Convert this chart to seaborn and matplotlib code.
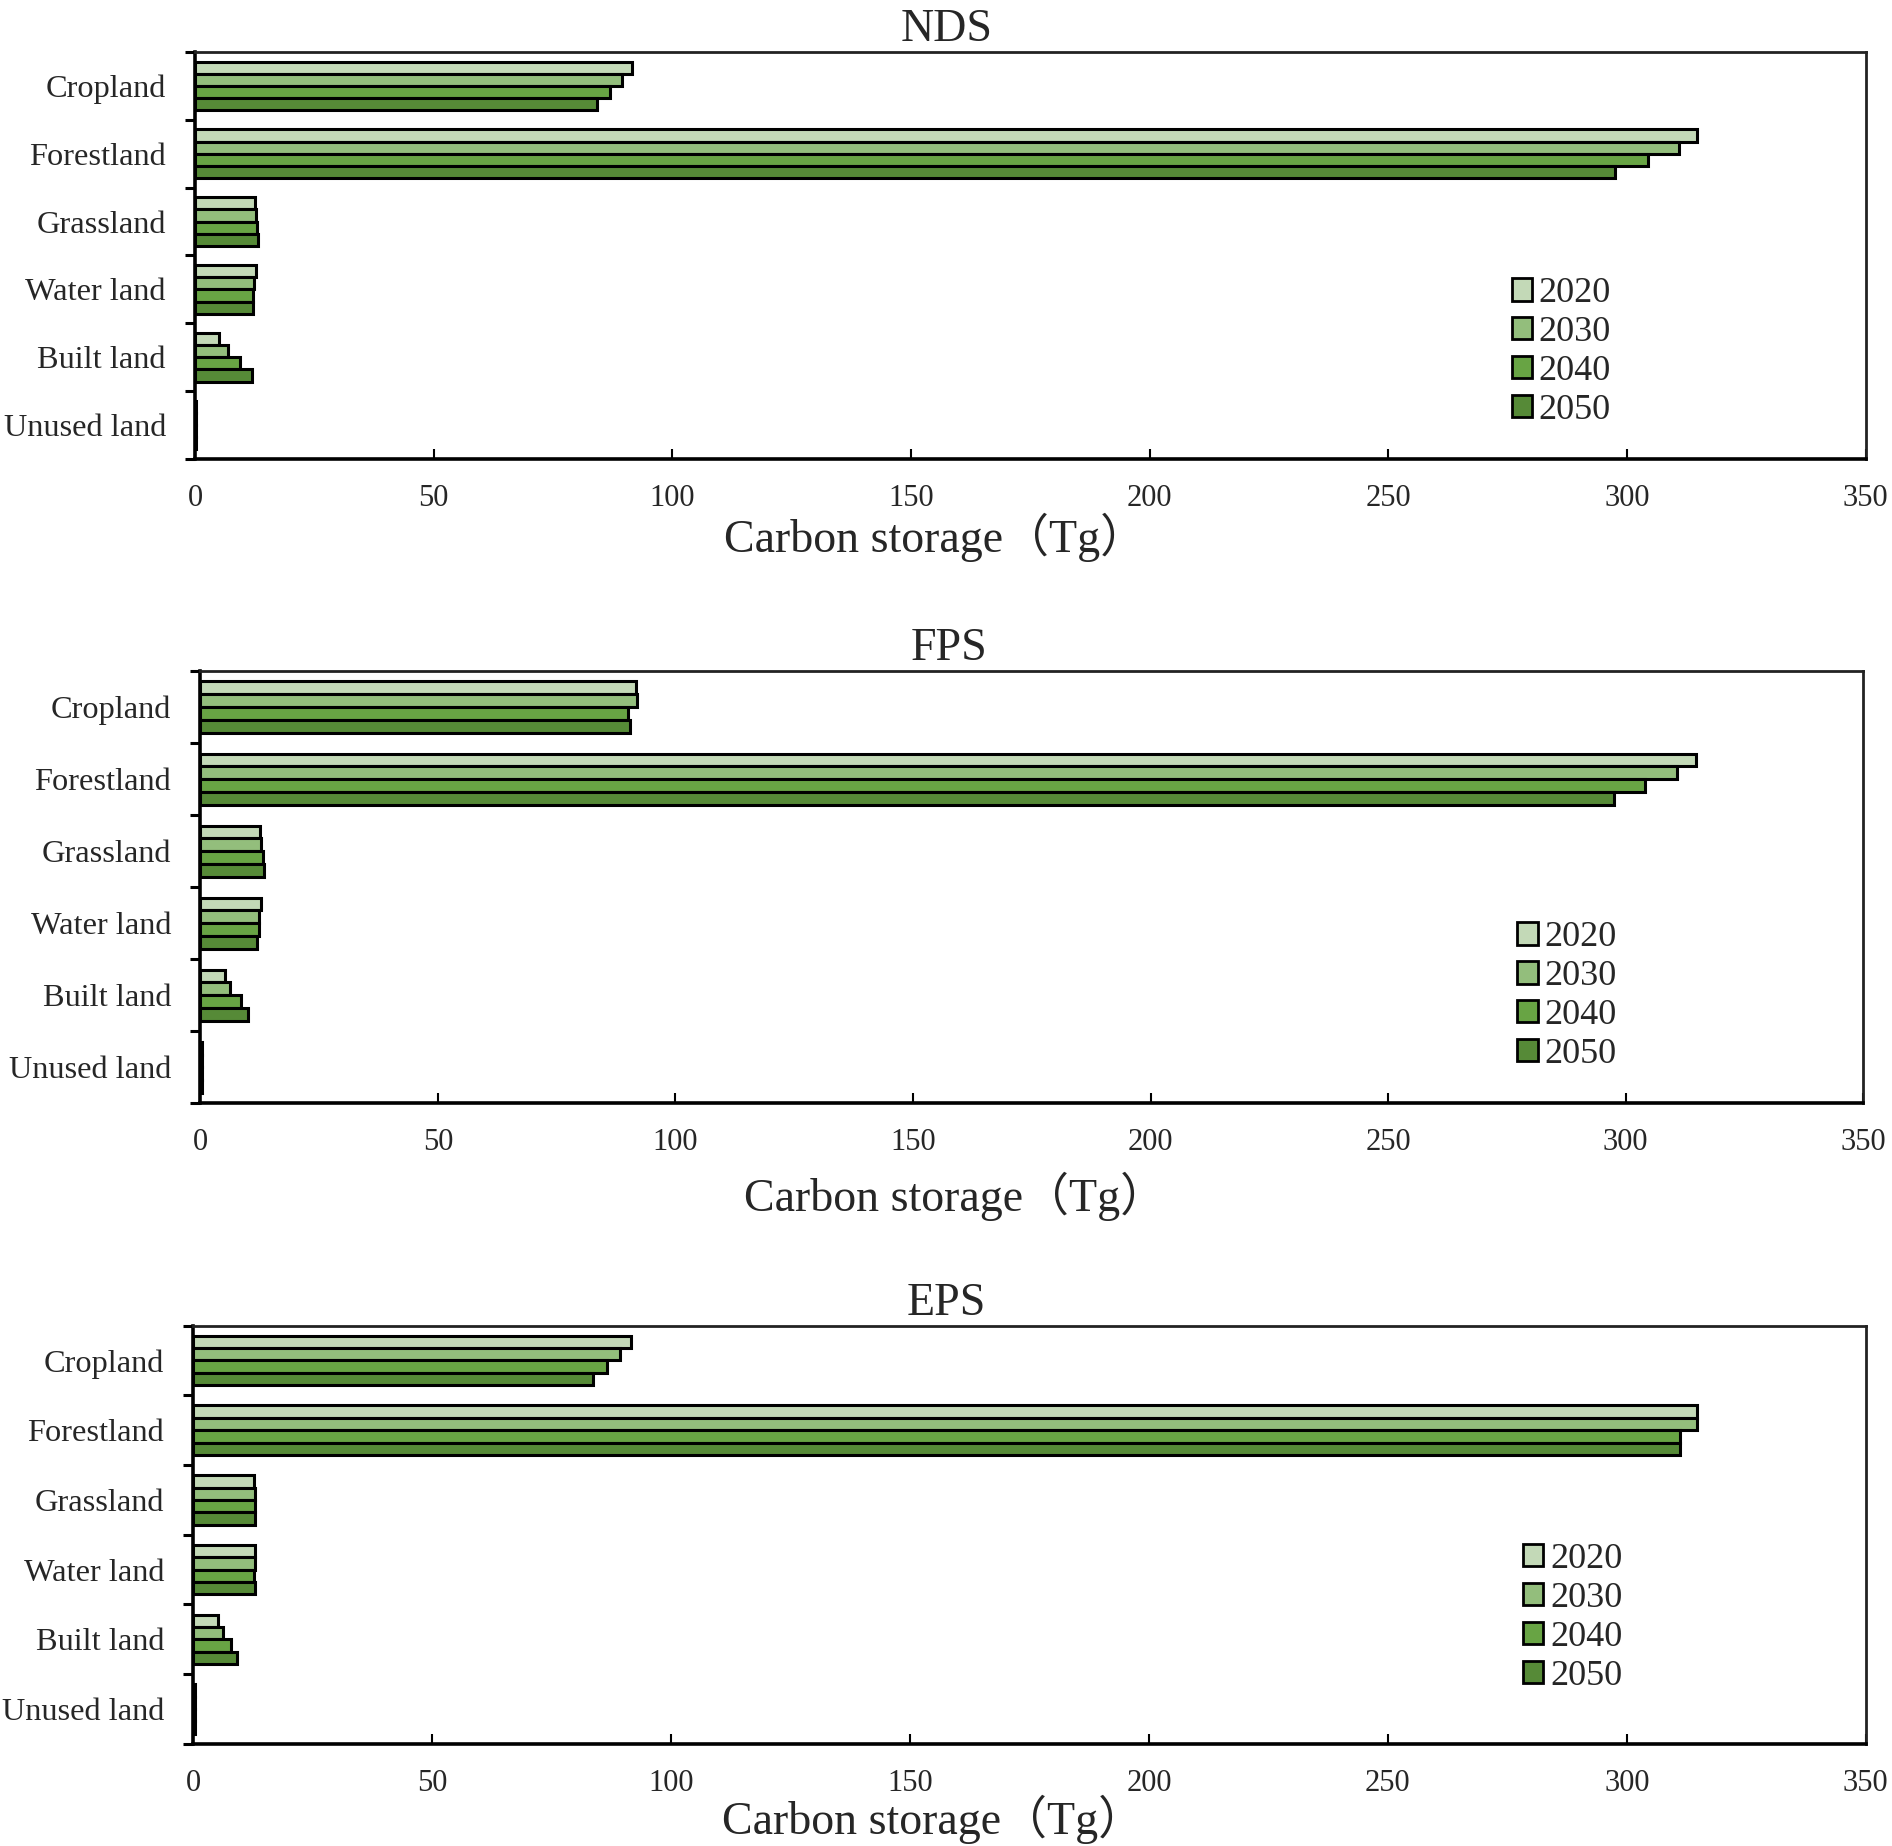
import numpy as np
import pandas as pd
import matplotlib
matplotlib.use('Agg')
import matplotlib.pyplot as plt
from matplotlib.patches import Patch
import seaborn as sns

# land use classes and years
land = ['Cropland', 'Forestland', 'Grassland', 'Water land', 'Built land', 'Unused land']
years = ['2020', '2030', '2040', '2050']
colors = ['#C3D9B7', '#93BE7C', '#68A444', '#568A37']

# carbon storage (Tg)
base_2020 = [91.6, 314.7, 12.6, 12.8, 5.1, 0.3]

nds_2030 = [89.5, 310.8, 12.7, 12.3, 6.9, 0.3]
nds_2040 = [86.9, 304.3, 12.9, 12.1, 9.4, 0.3]
nds_2050 = [84.3, 297.5, 13.2, 12.1, 12.0, 0.3]

fps_2030 = [91.9, 310.7, 12.8, 12.3, 6.2, 0.3]
fps_2040 = [90.1, 304.1, 13.1, 12.3, 8.5, 0.3]
fps_2050 = [90.5, 297.5, 13.3, 12.0, 10.0, 0.3]

eps_2030 = [89.2, 314.6, 12.9, 12.8, 6.1, 0.3]
eps_2040 = [86.5, 311.1, 12.9, 12.7, 7.9, 0.3]
eps_2050 = [83.7, 311.1, 12.8, 12.8, 9.1, 0.3]

scenarios = ['NDS', 'FPS', 'EPS']
series = {
    'NDS': [base_2020, nds_2030, nds_2040, nds_2050],
    'FPS': [base_2020, fps_2030, fps_2040, fps_2050],
    'EPS': [base_2020, eps_2030, eps_2040, eps_2050],
}

sns.set_theme(style='white')
plt.rcParams['font.family'] = ['Liberation Serif', 'Noto Sans CJK SC']

fig = plt.figure(figsize=(18.92, 18.46), dpi=100)

# axes rectangles in figure fractions
rects = {
    'NDS': [0.1031, 0.7512, 0.8830, 0.2208],
    'FPS': [0.1059, 0.4023, 0.8789, 0.2342],
    'EPS': [0.1022, 0.0553, 0.8839, 0.2266],
}
legend_pos = {'NDS': (0.788, 0.263), 'FPS': (0.792, 0.248), 'EPS': (0.795, 0.301)}
xlabel_pos = {'NDS': (0.443, -0.1925), 'FPS': (0.454, -0.2155), 'EPS': (0.442, -0.1795)}

for name in scenarios:
    ax = fig.add_axes(rects[name])
    rows = []
    for year, vals in zip(years, series[name]):
        for lu, v in zip(land, vals):
            rows.append({'land': lu, 'year': year, 'value': v})
    df = pd.DataFrame(rows)

    sns.barplot(data=df, x='value', y='land', hue='year', orient='h',
                order=land, hue_order=years, palette=colors, saturation=1,
                edgecolor='black', linewidth=2.2, width=0.71, gap=0,
                legend=False, ax=ax)

    ax.set_xlim(0, 350)
    ax.set_xticks(np.arange(0, 351, 50))
    ax.set_ylim(5.5, -0.5)
    ax.set_yticks(range(len(land)))
    ax.set_yticklabels(land)
    ax.set_yticks(np.arange(-0.5, len(land), 1), minor=True)
    ax.set_ylabel('')

    ax.tick_params(axis='x', which='major', direction='in', length=7, width=1.5,
                   pad=18, labelsize=22, bottom=True, top=False, color='black')
    ax.tick_params(axis='y', which='major', length=0, pad=21, labelsize=23.3)
    ax.tick_params(axis='y', which='minor', direction='out', length=7, width=2.2,
                   left=True, color='black')

    for side in ['left', 'bottom']:
        ax.spines[side].set_linewidth(2.6)
        ax.spines[side].set_color('black')
    for side in ['top', 'right']:
        ax.spines[side].set_linewidth(2.0)
        ax.spines[side].set_color('#222222')

    ax.set_title(name, fontsize=33, pad=8, x=0.45)
    ax.set_xlabel('Carbon storage（Tg）', fontsize=33, va='center')
    ax.xaxis.set_label_coords(*xlabel_pos[name])

    handles = [Patch(facecolor=c, edgecolor='black', linewidth=2.0) for c in colors]
    ax.legend(handles, years, loc='center left', bbox_to_anchor=legend_pos[name],
              frameon=False, fontsize=26, handlelength=0.57, handleheight=0.57,
              handletextpad=0.18, labelspacing=0.165, borderpad=0, borderaxespad=0)

fig.savefig('out.png', dpi=100, facecolor='white')
